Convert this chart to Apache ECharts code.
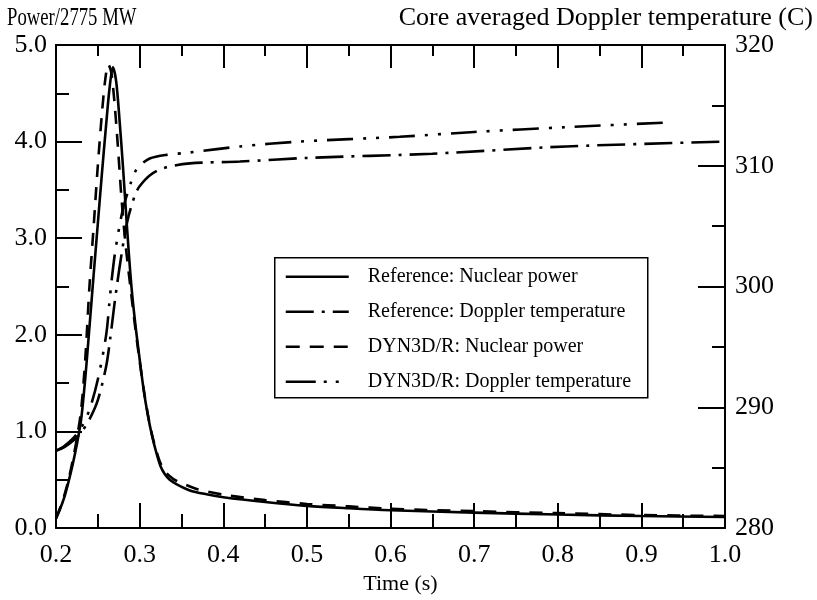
<!DOCTYPE html>
<html>
<head>
<meta charset="utf-8">
<script src="https://cdn.jsdelivr.net/npm/echarts@6/dist/echarts.min.js"></script>
<style>
  html, body { margin: 0; padding: 0; background: #fff; }
  #chart { width: 817px; height: 600px; }
</style>
</head>
<body>
<div id="chart"></div>
<script>
// Time axis and its labels
const timeTicks = [0.2, 0.3, 0.4, 0.5, 0.6, 0.7, 0.8, 0.9, 1.0];
const powerTicks = [0.0, 1.0, 2.0, 3.0, 4.0, 5.0];
const tempTicks = [280, 290, 300, 310, 320];

// Relative power (P / 2775 MW), [time s, value]
const refPower = [
  [0.200, 0.10], [0.205, 0.20], [0.210, 0.32], [0.215, 0.48], [0.220, 0.66],
  [0.225, 0.87], [0.230, 1.12], [0.235, 1.55], [0.240, 2.08], [0.245, 2.62],
  [0.250, 3.15], [0.255, 3.68], [0.260, 4.18], [0.264, 4.55], [0.268, 4.77],
  [0.272, 4.62], [0.276, 4.22], [0.280, 3.75], [0.285, 3.10], [0.290, 2.52],
  [0.295, 2.10], [0.300, 1.75], [0.305, 1.42], [0.310, 1.16], [0.315, 0.95],
  [0.320, 0.78], [0.325, 0.64], [0.330, 0.56], [0.336, 0.50], [0.345, 0.45],
  [0.360, 0.39], [0.380, 0.35], [0.400, 0.32], [0.450, 0.27], [0.500, 0.23],
  [0.550, 0.205], [0.600, 0.185], [0.700, 0.16], [0.800, 0.14], [0.900, 0.125],
  [1.000, 0.115]
];
const dynPower = [
  [0.200, 0.10], [0.205, 0.21], [0.210, 0.34], [0.215, 0.50], [0.220, 0.70],
  [0.225, 0.93], [0.230, 1.22], [0.235, 1.75], [0.240, 2.50], [0.245, 3.12],
  [0.250, 3.75], [0.255, 4.30], [0.259, 4.65], [0.2625, 4.80], [0.266, 4.72],
  [0.270, 4.40], [0.274, 3.95], [0.278, 3.45], [0.283, 2.95], [0.290, 2.42],
  [0.295, 2.06], [0.300, 1.73], [0.305, 1.43], [0.310, 1.17], [0.315, 0.96],
  [0.320, 0.80], [0.325, 0.67], [0.330, 0.59], [0.340, 0.51], [0.352, 0.46],
  [0.370, 0.40], [0.404, 0.34], [0.450, 0.29], [0.500, 0.25], [0.550, 0.225],
  [0.600, 0.20], [0.700, 0.175], [0.800, 0.155], [0.900, 0.135], [1.000, 0.125]
];

// Core averaged Doppler temperature (C), [time s, value]
const refDoppler = [
  [0.200, 286.4], [0.210, 286.7], [0.220, 287.2], [0.230, 287.9], [0.240, 289.0],
  [0.250, 290.6], [0.260, 293.4], [0.265, 295.8], [0.270, 298.6], [0.276, 301.6],
  [0.285, 305.3], [0.2945, 307.6], [0.300, 308.3], [0.312, 309.2], [0.328, 309.8],
  [0.360, 310.2], [0.420, 310.35], [0.500, 310.65], [0.650, 311.0], [0.810, 311.6],
  [1.000, 312.0]
];
const dynDoppler = [
  [0.200, 286.4], [0.210, 286.8], [0.220, 287.4], [0.230, 288.3], [0.240, 289.8],
  [0.250, 292.3], [0.260, 296.0], [0.265, 299.5], [0.2706, 302.8], [0.280, 306.4],
  [0.290, 308.7], [0.2945, 309.5], [0.300, 310.0], [0.312, 310.6], [0.332, 310.9],
  [0.360, 311.1], [0.420, 311.6], [0.490, 312.0], [0.611, 312.4], [0.700, 312.8],
  [0.811, 313.2], [0.937, 313.6]
];

const seriesNames = [
  'Reference: Nuclear power',
  'Reference: Doppler temperature',
  'DYN3D/R: Nuclear power',
  'DYN3D/R: Doppler temperature'
];

const FONT = 'Liberation Serif';
const INK = '#000';
const LINE_W = 2.6;

// Dash patterns shared by the curves and the key
const dashes = [
  'solid',
  [28, 8, 3, 8],
  [13, 10],
  [26, 10, 3, 10, 3, 10]
];
const legendDashes = [
  null,
  [28, 8, 3, 8],
  [14, 10],
  [30, 8, 3, 9, 3, 30]
];

const chart = echarts.init(document.getElementById('chart'), null, { renderer: 'canvas' });

const tickFmt1 = v => Number(v).toFixed(1);

function frameAxis(extra) {
  return Object.assign({
    axisLine: { show: true, lineStyle: { color: INK, width: 2 } },
    splitLine: { show: false },
    minorSplitLine: { show: false }
  }, extra);
}

// Key box with line samples and labels
const keyLeft = 274, keyTop = 257, keyW = 373, keyH = 140;
const keyRows = [19, 54, 89, 124];
const keyChildren = [{
  type: 'rect',
  shape: { x: 0, y: 0, width: keyW, height: keyH },
  style: { fill: '#fff', stroke: INK, lineWidth: 1.5 }
}];
seriesNames.forEach((name, i) => {
  const style = { stroke: INK, lineWidth: LINE_W };
  if (legendDashes[i]) style.lineDash = legendDashes[i];
  keyChildren.push({
    type: 'line',
    shape: { x1: 11, y1: keyRows[i], x2: 74, y2: keyRows[i] },
    style: style
  });
  keyChildren.push({
    type: 'text',
    x: 93, y: keyRows[i],
    style: { text: name, fontFamily: FONT, fontSize: 20, fill: INK,
      verticalAlign: 'middle', align: 'left' }
  });
});

chart.setOption({
  animation: false,
  backgroundColor: '#fff',
  grid: { left: 56, right: 92, top: 45, bottom: 67, containLabel: false },
  graphic: [
    // axis headings above the frame
    { type: 'text', x: 7, y: 18, scaleX: 0.72, z: 100,
      style: { text: 'Power/2775 MW', fontFamily: FONT, fontSize: 26, fill: INK,
        align: 'left', verticalAlign: 'middle' } },
    { type: 'text', x: 813, y: 18, z: 100,
      style: { text: 'Core averaged Doppler temperature (C)', fontFamily: FONT, fontSize: 26,
        fill: INK, align: 'right', verticalAlign: 'middle' } },
    { type: 'group', left: keyLeft, top: keyTop, z: 100, children: keyChildren }
  ],
  xAxis: [
    frameAxis({
      type: 'value', position: 'bottom', min: 0.2, max: 1.0, interval: 0.1,
      axisTick: { show: true, inside: true, length: 25, lineStyle: { color: INK, width: 2 } },
      minorTick: { show: true, splitNumber: 2, length: 14, lineStyle: { color: INK, width: 2 } },
      axisLabel: { show: true, margin: 14, formatter: tickFmt1,
        fontFamily: FONT, fontSize: 26, color: INK },
      name: 'Time (s)', nameLocation: 'middle', nameGap: 42,
      nameTextStyle: { fontFamily: FONT, fontSize: 22, color: INK, padding: [0, 0, 0, 20] }
    }),
    frameAxis({
      type: 'value', position: 'top', min: 0.2, max: 1.0, interval: 0.1,
      axisTick: { show: true, inside: true, length: 23, lineStyle: { color: INK, width: 2 } },
      minorTick: { show: true, splitNumber: 2, length: 11, lineStyle: { color: INK, width: 2 } },
      axisLabel: { show: false }
    })
  ],
  yAxis: [
    frameAxis({
      type: 'value', position: 'left', min: 0, max: 5, interval: 1,
      axisTick: { show: true, inside: true, length: 26, lineStyle: { color: INK, width: 2 } },
      minorTick: { show: true, splitNumber: 2, length: 13, lineStyle: { color: INK, width: 2 } },
      axisLabel: { show: true, margin: 9, formatter: tickFmt1,
        fontFamily: FONT, fontSize: 26, color: INK }
    }),
    frameAxis({
      type: 'value', position: 'right', min: 280, max: 320, interval: 10,
      axisTick: { show: true, inside: true, length: 27, lineStyle: { color: INK, width: 2 } },
      minorTick: { show: true, splitNumber: 2, length: 13, lineStyle: { color: INK, width: 2 } },
      axisLabel: { show: true, margin: 10, formatter: v => String(Math.round(v)),
        fontFamily: FONT, fontSize: 26, color: INK }
    })
  ],
  series: [
    { name: seriesNames[0], type: 'line', data: refPower, xAxisIndex: 0, yAxisIndex: 0,
      showSymbol: false, symbol: 'none', smooth: 0.3, color: INK,
      lineStyle: { color: INK, width: LINE_W, type: dashes[0] } },
    { name: seriesNames[1], type: 'line', data: refDoppler, xAxisIndex: 0, yAxisIndex: 1,
      showSymbol: false, symbol: 'none', smooth: 0.3, color: INK,
      lineStyle: { color: INK, width: LINE_W, type: dashes[1] } },
    { name: seriesNames[2], type: 'line', data: dynPower, xAxisIndex: 0, yAxisIndex: 0,
      showSymbol: false, symbol: 'none', smooth: 0.3, color: INK,
      lineStyle: { color: INK, width: LINE_W, type: dashes[2] } },
    { name: seriesNames[3], type: 'line', data: dynDoppler, xAxisIndex: 0, yAxisIndex: 1,
      showSymbol: false, symbol: 'none', smooth: 0.3, color: INK,
      lineStyle: { color: INK, width: LINE_W, type: dashes[3] } }
  ]
});
</script>
</body>
</html>
